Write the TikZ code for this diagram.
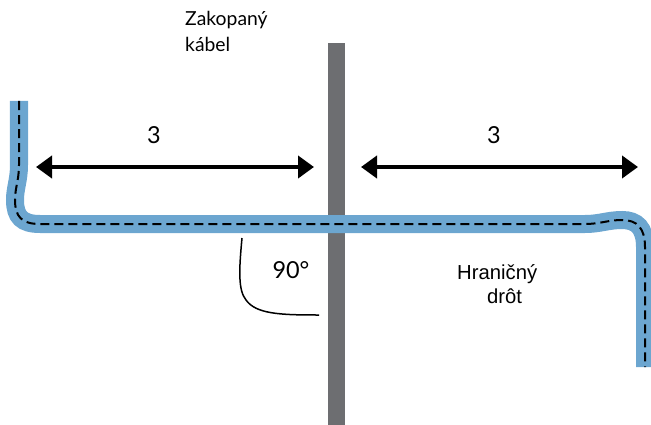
\documentclass[tikz,border=0pt]{standalone}
\usepackage{fontspec}
\usepackage{tikz}
\usetikzlibrary{arrows.meta}
\usetikzlibrary{positioning}
\setmainfont{Liberation Sans}
\newfontfamily\numfont{Lato}
\definecolor{mywire}{RGB}{108,166,208}
\definecolor{mybar}{RGB}{109,110,113}
\begin{document}
\begin{tikzpicture}[x=0.03cm, y=-0.03cm,
mylabel/.style={font=\fontsize{17.3}{20.4}\selectfont, align=left, inner sep=0pt},
mycable/.style={font=\numfont\fontsize{16.5}{23}\selectfont, align=left, inner sep=0pt},
mynum/.style={font=\numfont\fontsize{20}{24}\selectfont, inner sep=0pt, anchor=base},
myarrow/.style={line width=0.12cm, {Triangle[length=0.48cm,width=0.66cm]}-{Triangle[length=0.48cm,width=0.66cm]}},
mywirepath/.style={line width=0.54cm, color=mywire},
mydash/.style={line width=0.06cm, dash pattern=on 0.27cm off 0.15cm}
]
\useasboundingbox (0,0) rectangle (651,425);
\fill[mybar] (328,43) rectangle (345,425);
\begin{scope}
\clip (0,0) rectangle (651,425);
\def\mywire{(19,101) -- (19,165) .. controls (19,180) and (15,188) .. (15,200) .. controls (15,217) and (22,224) .. (40,224) -- (585,224) .. controls (600,224) and (608,220) .. (622,220) .. controls (637,220) and (645,228) .. (645,247) -- (645,367)}
\draw[mywirepath] \mywire;
\draw[mydash] \mywire;
\end{scope}
\coordinate (l1) at (36,167);
\coordinate (l2) at (314,167);
\coordinate (r1) at (361,167);
\coordinate (r2) at (638,167);
\draw[myarrow] (l1) -- (l2);
\draw[myarrow] (r1) -- (r2);
\coordinate (a1) at (242,238);
\coordinate (a2) at (319,315);
\draw[line width=0.045cm] (a1) .. controls (239,270) and (238,290) .. (246,300) .. controls (256,314) and (280,315) .. (a2);
\node[mycable, anchor=base west] (zakopany) at (185,52) {Zakopaný\\kábel};
\node[mylabel, anchor=base west] (hranicny) at (457,303) {Hraničný\\\hspace*{25.5pt}drôt};
\node[mynum] (ll) at (154,143) {3};
\node[mynum] (lr) at (494,143) {3};
\node[mynum] (uhol) at (291,278) {90°};
\end{tikzpicture}
\end{document}
